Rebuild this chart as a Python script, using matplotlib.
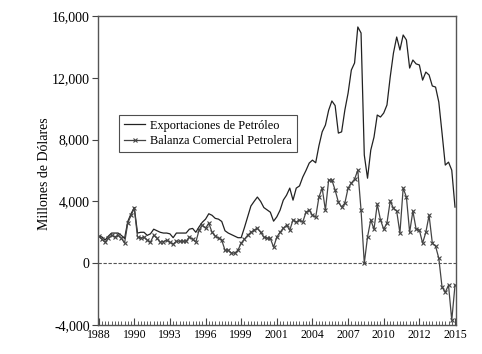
import numpy as np
import matplotlib
matplotlib.use('Agg')
import matplotlib.pyplot as plt
from matplotlib.ticker import FuncFormatter, MultipleLocator

# datos trimestrales 1988T1 - 2015T3 (millones de dolares)
exportaciones = [1750, 1700, 1500, 1750, 1950, 1950, 1950, 1800,
                 1600, 2700, 3200, 3600, 1950, 2000, 2000, 1800,
                 1900, 2200, 2100, 2000, 1950, 1950, 1900, 1650,
                 1950, 1950, 1950, 1950, 2200, 2250, 2000, 2350,
                 2650, 2850, 3200, 3100, 2900, 2850, 2700, 2100,
                 1950, 1850, 1750, 1650, 1650, 2300, 3000, 3700,
                 4000, 4280, 4000, 3600, 3450, 3300, 2720, 3000,
                 3430, 4080, 4400, 4860, 4080, 4860, 5000, 5570,
                 6000, 6480, 6670, 6500, 7600, 8500, 8940, 9900,
                 10500, 10200, 8420, 8500, 9910, 11010, 12500, 12960,
                 15290, 14900, 7000, 5500, 7320, 8160, 9590, 9460,
                 9720, 10240, 12050, 13600, 14640, 13800, 14770, 14450,
                 12630, 13150, 12900, 12830, 11850, 12370, 12180, 11470,
                 11400, 10430, 8420, 6350, 6540, 6020, 3630]

balanza = [1750, 1550, 1360, 1620, 1810, 1700, 1810, 1620,
           1300, 2600, 3100, 3550, 1700, 1620, 1690, 1490,
           1360, 1810, 1620, 1360, 1400, 1490, 1350, 1230,
           1420, 1420, 1420, 1420, 1690, 1550, 1360, 2140,
           2460, 2260, 2590, 2000, 1750, 1620, 1490, 840,
           840, 650, 650, 840, 1300, 1550, 1810, 2000,
           2140, 2260, 2000, 1690, 1620, 1600, 1040, 1690,
           2000, 2260, 2460, 2140, 2800, 2660, 2800, 2660,
           3300, 3430, 3100, 2980, 4280, 4860, 3430, 5380,
           5380, 4730, 3950, 3630, 3890, 4860, 5180, 5440,
           6020, 3430, 0, 1700, 2800, 2200, 3820, 2800,
           2200, 2600, 4020, 3560, 3370, 1950, 4860, 4280,
           2000, 3370, 2200, 2140, 1300, 2000, 3100, 1300,
           1100, 320, -1550, -1880, -1430, -3690, -1430]

etiquetas = ['1988', '1990', '1993', '1996', '1999', '2001',
             '2004', '2007', '2010', '2012', '2015']

plt.rcParams['font.family'] = 'Liberation Serif'

t = np.arange(len(exportaciones))

fig = plt.figure(figsize=(4.82, 3.54), dpi=100)
ax = fig.add_axes([0.2033, 0.082, 0.7427, 0.8728])

ax.axhline(0, color='#555555', lw=0.8, ls=(0, (3, 1.5)))
ax.plot(t, exportaciones, color='#222222', lw=0.9,
        label='Exportaciones de Petróleo')
ax.plot(t, balanza, color='#444444', lw=0.9, marker='x', ms=3.5,
        mew=0.8, label='Balanza Comercial Petrolera')

ax.set_xlim(-0.2, 110.3)
ax.set_ylim(-4000, 16000)
ax.set_xticks(np.arange(0, 111, 11))
ax.set_xticklabels(etiquetas, fontsize=8.5)
ax.xaxis.set_minor_locator(MultipleLocator(1))
ax.set_yticks([-4000, 0, 4000, 8000, 12000, 16000])
ax.yaxis.set_major_formatter(FuncFormatter(lambda v, p: f'{v:,.0f}'))
ax.tick_params(axis='y', direction='out', length=4, labelsize=10,
               color='#444444', pad=2)
ax.tick_params(axis='x', which='major', direction='in', length=5,
               color='#444444', pad=3)
ax.tick_params(axis='x', which='minor', direction='in', length=3,
               color='#444444')
for s in ax.spines.values():
    s.set_color('#555555')
    s.set_linewidth(1.0)

ax.set_ylabel('Millones de Dólares', fontsize=10)
ax.yaxis.set_label_coords(-0.13, 0.49)

leg = ax.legend(loc='upper left', bbox_to_anchor=(0.06, 0.68),
                fontsize=8.8, frameon=True, fancybox=False,
                edgecolor='#222222', handlelength=1.7, handletextpad=0.4,
                borderpad=0.4, labelspacing=0.25, borderaxespad=0)
leg.get_frame().set_linewidth(0.8)

fig.savefig('out.png', dpi=100)
